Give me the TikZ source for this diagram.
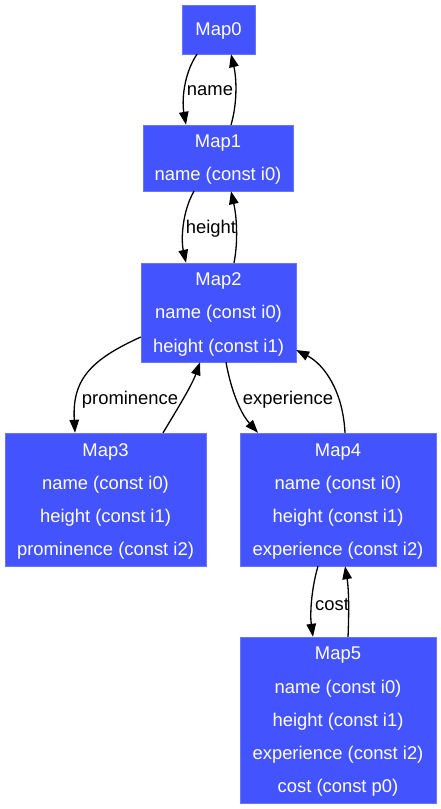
\documentclass[tikz,border=0pt]{standalone}
\usepackage{fontspec}
\setmainfont{Liberation Sans}
\usetikzlibrary{arrows.meta}
\definecolor{mapblue}{HTML}{4354FF}
\begin{document}
\begin{tikzpicture}[x=1pt,y=-1pt,
  mapbox/.style={fill=mapblue, draw=mapblue!80!white, text=white, inner sep=0pt, align=center,
    font=\fontsize{18.4}{33.2}\selectfont, text depth=0pt},
  conn/.style={line width=1.3pt, -{Triangle[length=13pt,width=9.5pt]}},
  elabel/.style={font=\fontsize{18.4}{20}\selectfont, inner sep=0pt}]
\useasboundingbox (0,0) rectangle (441,809);
\node[mapbox, minimum width=73pt, minimum height=49pt] (m0) at (218.5,29.5) {Map0};
\node[mapbox, minimum width=150pt, minimum height=66pt] (m1) at (218,158) {Map1\\name (const i0)};
\node[mapbox, minimum width=155pt, minimum height=99pt] (m2) at (218.5,312.5) {Map2\\name (const i0)\\height (const i1)};
\node[mapbox, minimum width=201pt, minimum height=133pt] (m3) at (105.5,499.5) {Map3\\name (const i0)\\height (const i1)\\prominence (const i2)};
\node[mapbox, minimum width=196pt, minimum height=133pt] (m4) at (338,499.5) {Map4\\name (const i0)\\height (const i1)\\experience (const i2)};
\node[mapbox, minimum width=196pt, minimum height=166pt] (m5) at (338,720) {Map5\\name (const i0)\\height (const i1)\\experience (const i2)\\cost (const p0)};

% Map0 <-> Map1
\draw[conn] ([xshift=-21.5pt]m0.south) .. controls (183,75) and (182,102) .. ([xshift=-32pt]m1.north);
\draw[conn] ([xshift=13pt]m1.north) .. controls (237,105) and (237,80) .. ([xshift=12.5pt]m0.south);
\node[elabel] (l0) at (210,90.5) {name};

% Map1 <-> Map2
\draw[conn] ([xshift=-24pt]m1.south) .. controls (182,212) and (181,240) .. ([xshift=-32.5pt]m2.north);
\draw[conn] ([xshift=15.5pt]m2.north) .. controls (238,243) and (237,218) .. ([xshift=13pt]m1.south);
\node[elabel] (l1) at (211,228.5) {height};

% Map2 <-> Map3
\draw[conn] (m2.west |- 0,337) .. controls (90,360) and (72,380) .. ([xshift=-30.5pt]m3.north);
\draw[conn] ([xshift=57.5pt]m3.north) .. controls (178,408) and (192,385) .. ([xshift=-18.5pt]m2.south);
\node[elabel] (l2) at (130,399.5) {prominence};

% Map2 <-> Map4
\draw[conn] ([xshift=7.5pt]m2.south) .. controls (232,395) and (242,415) .. ([xshift=-80pt]m4.north);
\draw[conn] ([xshift=7pt]m4.north) .. controls (343,392) and (325,365) .. (m2.east |- 0,350);
\node[elabel] (l3) at (288,399.5) {experience};

% Map4 <-> Map5
\draw[conn] ([xshift=-20pt]m4.south) .. controls (311,590) and (310,615) .. ([xshift=-25pt]m5.north);
\draw[conn] ([xshift=10pt]m5.north) .. controls (349,615) and (349,590) .. ([xshift=7pt]m4.south);
\node[elabel] (l4) at (332,604.5) {cost};
\end{tikzpicture}
\end{document}
